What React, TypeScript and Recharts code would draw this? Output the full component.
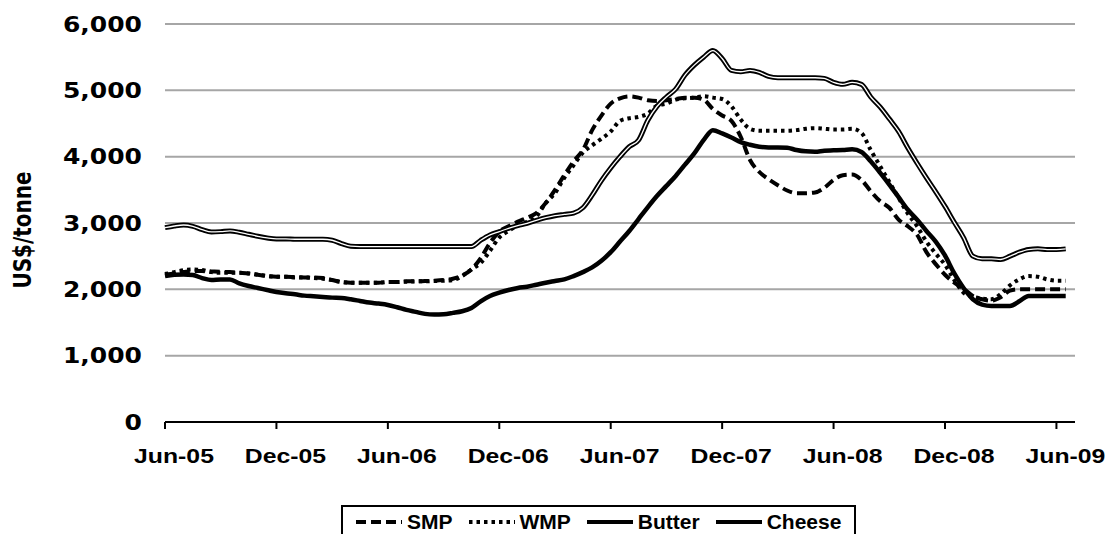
import { CartesianGrid, Legend, Line, LineChart, XAxis, YAxis } from 'recharts';

// Oceania export prices, twice-monthly readings from Jun-05 to mid Jul-09.
const tickLabels = ['Jun-05', 'Dec-05', 'Jun-06', 'Dec-06', 'Jun-07', 'Dec-07', 'Jun-08', 'Dec-08', 'Jun-09'];
const tickMonths = [0, 6, 12, 18, 24, 30, 36, 42, 48];
const yTicks = [0, 1000, 2000, 3000, 4000, 5000, 6000];

const smp = [
  2220, 2240, 2260, 2275, 2275, 2270, 2265, 2260, 2250, 2240,
  2220, 2200, 2190, 2190, 2185, 2180, 2180, 2170, 2140, 2110,
  2100, 2100, 2100, 2100, 2110, 2110, 2120, 2120, 2125, 2130,
  2140, 2160, 2210, 2300, 2470, 2700, 2870, 2950, 3020, 3080,
  3150, 3300, 3500, 3720, 3930, 4100, 4400, 4620, 4800, 4880,
  4910, 4890, 4850, 4840, 4850, 4870, 4890, 4890, 4860, 4720,
  4620, 4540, 4300, 3950, 3770, 3660, 3570, 3490, 3450, 3450,
  3460, 3530, 3650, 3720, 3730, 3650, 3480, 3330, 3230, 3050,
  2950, 2820, 2560, 2380, 2220, 2100, 2010, 1900, 1850, 1830,
  1880, 1980, 2000, 2000, 2000, 2000, 2000, 2000,
];

const wmp = [
  2230, 2260, 2290, 2300, 2290, 2260, 2250, 2250, 2250, 2240,
  2220, 2200, 2190, 2190, 2180, 2180, 2170, 2160, 2140, 2110,
  2100, 2100, 2100, 2100, 2110, 2110, 2115, 2120, 2120, 2125,
  2130, 2140, 2200, 2300, 2400, 2580, 2780, 2880, 2960, 3020,
  3100, 3300, 3450, 3680, 3870, 4060, 4170, 4270, 4380, 4540,
  4580, 4600, 4650, 4770, 4800, 4860, 4880, 4890, 4910, 4890,
  4870, 4760, 4560, 4420, 4390, 4390, 4390, 4390, 4400, 4420,
  4430, 4420, 4410, 4410, 4420, 4360, 4100, 3860, 3620, 3380,
  3140, 2950, 2720, 2540, 2370, 2140, 1950, 1890, 1860, 1850,
  1930, 2060, 2150, 2200, 2190, 2150, 2130, 2130,
];

const butter = [
  2200, 2220, 2225, 2215, 2170, 2140, 2150, 2150, 2090, 2050,
  2020, 1990, 1960, 1940, 1925, 1905, 1895, 1885, 1875, 1870,
  1850, 1825, 1800, 1785, 1765, 1730, 1690, 1660, 1630, 1620,
  1625, 1645, 1670, 1720, 1820, 1900, 1950, 1990, 2020, 2040,
  2070, 2100, 2125, 2150, 2200, 2260, 2330, 2430, 2560, 2720,
  2880, 3060, 3240, 3410, 3560, 3710, 3880, 4050, 4250, 4400,
  4350, 4290, 4220, 4180, 4150, 4140, 4140, 4135, 4100, 4080,
  4075, 4090, 4095, 4100, 4110, 4070, 3930, 3760, 3580, 3390,
  3200, 3050, 2880, 2720, 2510, 2240, 2020, 1850, 1770, 1750,
  1750, 1750, 1820, 1900, 1900, 1900, 1900, 1900,
];

const cheese = [
  2930, 2955, 2970, 2950, 2900, 2865, 2870, 2880, 2860, 2830,
  2800, 2775, 2760, 2760, 2755, 2755, 2755, 2755, 2740, 2690,
  2650, 2645, 2645, 2645, 2645, 2645, 2645, 2645, 2645, 2645,
  2645, 2645, 2645, 2645, 2740, 2820, 2870, 2920, 2960, 2995,
  3040, 3080, 3110, 3130, 3150, 3230, 3420, 3640, 3830, 4000,
  4150, 4250, 4550, 4760, 4900, 5020, 5230, 5380, 5500, 5600,
  5480, 5300, 5280, 5300, 5270, 5210, 5190, 5190, 5190, 5190,
  5190, 5180, 5120, 5090, 5120, 5090, 4900, 4750, 4570, 4380,
  4130, 3900, 3680, 3470, 3250, 3010, 2780, 2500, 2460, 2460,
  2450, 2500, 2560, 2600, 2610, 2600, 2600, 2610,
];

const data = smp.map((v, i) => ({
  month: i / 2,
  smp: v,
  wmp: wmp[i],
  butter: butter[i],
  cheese: cheese[i],
}));

const boldSans = '"Liberation Sans", Arial, sans-serif';
const wideSans = '"DejaVu Sans", Verdana, sans-serif';

function XTick({ x, payload }: any) {
  const label = tickLabels[tickMonths.indexOf(payload.value)];
  return (
    <g transform={`translate(${x + 9},463) scale(1.18,1)`}>
      <text textAnchor="middle" fontFamily={boldSans} fontWeight="bold" fontSize={21} fill="#000">
        {label}
      </text>
    </g>
  );
}

function YTick({ y, payload }: any) {
  return (
    <g transform={`translate(142,${y + 7.5}) scale(1.22,1)`}>
      <text textAnchor="end" fontFamily={wideSans} fontWeight="bold" fontSize={20.5} fill="#000">
        {Number(payload.value).toLocaleString('en-US')}
      </text>
    </g>
  );
}

function YTitle() {
  return (
    <text
      transform="translate(31,230) scale(1.2,1) rotate(-90)"
      textAnchor="middle"
      fontFamily={wideSans}
      fontWeight="bold"
      fontSize={20}
      fill="#000"
    >
      US$/tonne
    </text>
  );
}

const legendNames = ['SMP', 'WMP', 'Butter', 'Cheese'];
const legendDash: Record<string, string | undefined> = { SMP: '10 5', WMP: '3.5 4' };

function LegendBox() {
  return (
    <div
      style={{
        display: 'flex',
        alignItems: 'center',
        height: 30,
        border: '2px solid #000',
        padding: '0 13px 0 13px',
        background: '#fff',
        fontFamily: boldSans,
        fontWeight: 'bold',
        fontSize: 21,
        color: '#000',
      }}
    >
      {legendNames.map((name) => (
        <div key={name} style={{ display: 'flex', alignItems: 'center', marginRight: name === 'Cheese' ? 0 : 16 }}>
          <svg width={46} height={10} style={{ marginRight: 5 }}>
            <line x1={0} y1={5} x2={46} y2={5} stroke="#000" strokeWidth={4} strokeDasharray={legendDash[name]} />
          </svg>
          <span>{name}</span>
        </div>
      ))}
    </div>
  );
}

export default function App() {
  return (
    <div style={{ position: 'absolute', left: 0, top: 0, background: '#fff' }}>
      <LineChart width={1109} height={534} data={data} margin={{ top: 24, right: 34, left: 0, bottom: 72 }}>
        <CartesianGrid horizontal vertical={false} stroke="#a6a6a6" strokeWidth={2} />
        <XAxis
          dataKey="month"
          type="number"
          domain={[0, 49]}
          ticks={tickMonths}
          height={40}
          tick={<XTick />}
          tickSize={7}
          axisLine={{ stroke: '#000', strokeWidth: 2 }}
          tickLine={{ stroke: '#000', strokeWidth: 2 }}
        />
        <YAxis
          type="number"
          domain={[0, 6000]}
          ticks={yTicks}
          width={165}
          tick={<YTick />}
          tickSize={0}
          axisLine={false}
          tickLine={false}
          label={<YTitle />}
        />
        <Legend
          layout="horizontal"
          verticalAlign="middle"
          align="center"
          content={<LegendBox />}
          wrapperStyle={{ left: 341, top: 505, width: 'auto' }}
        />
        <Line dataKey="smp" name="SMP" type="monotone" stroke="#000" strokeWidth={4} strokeDasharray="10 5" dot={false} isAnimationActive={false} />
        <Line dataKey="wmp" name="WMP" type="monotone" stroke="#000" strokeWidth={4} strokeDasharray="3.5 4" dot={false} isAnimationActive={false} />
        <Line dataKey="butter" name="Butter" type="monotone" stroke="#000" strokeWidth={4.5} dot={false} isAnimationActive={false} />
        <Line dataKey="cheese" name="Cheese" type="monotone" stroke="#000" strokeWidth={5} dot={false} isAnimationActive={false} />
        <Line dataKey="cheese" name="Cheese inner" legendType="none" type="monotone" stroke="#fff" strokeWidth={1.3} dot={false} isAnimationActive={false} />
      </LineChart>
    </div>
  );
}
